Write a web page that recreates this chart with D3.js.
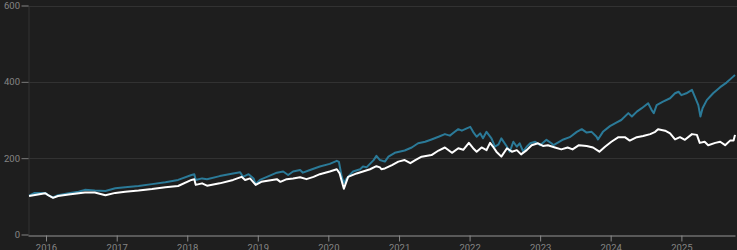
<!DOCTYPE html>
<html>
<head>
<meta charset="utf-8">
<script src="https://cdn.jsdelivr.net/npm/d3@7/dist/d3.min.js"></script>
<style>
  html, body { margin: 0; padding: 0; background: #1e1e1e; overflow: hidden; }
  svg { display: block; }
</style>
</head>
<body>
<svg id="chart" width="737" height="250"></svg>
<script>
// ---- Data (decimal years, values indexed to 100) ----
const blueYears = [2015.76,2015.84,2015.99,2016.03,2016.10,2016.17,2016.32,2016.46,2016.55,2016.69,2016.84,2016.98,2017.12,2017.31,2017.50,2017.69,2017.87,2018.06,2018.10,2018.12,2018.21,2018.28,2018.46,2018.65,2018.75,2018.79,2018.87,2018.94,2018.97,2019.03,2019.13,2019.27,2019.36,2019.43,2019.50,2019.60,2019.64,2019.74,2019.88,2020.02,2020.12,2020.15,2020.19,2020.22,2020.26,2020.35,2020.45,2020.49,2020.54,2020.64,2020.68,2020.73,2020.80,2020.85,2020.94,2021.08,2021.18,2021.27,2021.37,2021.46,2021.56,2021.65,2021.72,2021.79,2021.84,2021.89,2021.96,2022.01,2022.05,2022.10,2022.15,2022.19,2022.24,2022.31,2022.36,2022.41,2022.45,2022.53,2022.57,2022.62,2022.67,2022.71,2022.76,2022.81,2022.86,2022.93,2023.00,2023.09,2023.16,2023.19,2023.33,2023.42,2023.52,2023.59,2023.66,2023.73,2023.80,2023.82,2023.89,2023.99,2024.08,2024.15,2024.25,2024.30,2024.37,2024.44,2024.53,2024.58,2024.61,2024.65,2024.74,2024.84,2024.91,2024.96,2025.00,2025.07,2025.15,2025.19,2025.24,2025.27,2025.30,2025.36,2025.45,2025.55,2025.64,2025.73,2025.76];
const blueValues = [102,109,109,103,97,103,108,112,117,115,114,121,124,127,132,137,143,156,158,143,147,145,153,160,163,151,158,147,132,143,151,162,165,156,165,169,162,169,178,185,193,190,151,135,147,165,171,178,176,195,206,195,191,204,214,220,228,239,243,249,256,263,259,269,276,272,278,282,269,256,265,252,269,252,230,236,252,230,217,243,230,239,217,230,239,243,234,248,239,234,249,255,269,276,267,269,256,249,269,284,293,300,318,309,322,331,344,326,318,339,348,357,370,374,365,370,379,361,339,309,331,352,370,386,398,413,418];

const whiteYears = [2015.76,2015.99,2016.03,2016.10,2016.17,2016.32,2016.55,2016.69,2016.84,2016.98,2017.12,2017.31,2017.50,2017.69,2017.87,2018.06,2018.10,2018.12,2018.21,2018.28,2018.46,2018.65,2018.77,2018.82,2018.89,2018.97,2019.05,2019.27,2019.32,2019.41,2019.50,2019.60,2019.69,2019.79,2019.88,2020.02,2020.12,2020.16,2020.22,2020.28,2020.40,2020.49,2020.59,2020.68,2020.73,2020.75,2020.80,2020.90,2020.99,2021.08,2021.16,2021.23,2021.32,2021.46,2021.56,2021.65,2021.75,2021.84,2021.91,2021.99,2022.05,2022.10,2022.17,2022.24,2022.29,2022.34,2022.38,2022.45,2022.53,2022.60,2022.67,2022.73,2022.81,2022.88,2022.97,2023.04,2023.11,2023.21,2023.30,2023.39,2023.46,2023.55,2023.66,2023.75,2023.84,2023.92,2024.01,2024.11,2024.20,2024.27,2024.37,2024.46,2024.56,2024.63,2024.67,2024.77,2024.84,2024.91,2024.98,2025.05,2025.15,2025.22,2025.26,2025.33,2025.38,2025.48,2025.55,2025.62,2025.69,2025.74,2025.76];
const whiteValues = [101,108,103,96,101,105,110,110,103,109,112,115,119,124,127,143,145,130,134,128,134,143,151,143,147,130,138,145,138,145,147,150,145,151,158,165,171,160,120,151,160,165,171,179,176,171,173,182,191,195,187,195,204,208,220,228,214,226,222,240,226,217,228,221,240,228,217,204,226,217,221,210,221,234,239,232,234,228,223,228,223,234,232,228,217,230,243,255,255,246,255,258,263,269,276,272,265,249,255,248,263,261,240,243,234,240,243,234,246,246,261];

const yTicks = [0, 200, 400, 600];
const xTickYears = [2016,2017,2018,2019,2020,2021,2022,2023,2024,2025];
const xDomainYears = [2015.745, 2025.76];

// ---- Helpers ----
function yearToDate(y) {
  const yr = Math.floor(y);
  const start = Date.UTC(yr, 0, 1), end = Date.UTC(yr + 1, 0, 1);
  return new Date(start + (y - yr) * (end - start));
}

const svg = d3.select("#chart");
const W = 737, H = 250;
const margin = { left: 28, right: 2, top: 5.5, bottom: 15.5 };

const x = d3.scaleUtc()
  .domain(xDomainYears.map(yearToDate))
  .range([margin.left, W - margin.right]);
const y = d3.scaleLinear()
  .domain([0, 600])
  .range([H - margin.bottom, margin.top]);

// gridlines
svg.append("g").selectAll("line")
  .data(yTicks.filter(d => d > 0))
  .join("line")
  .attr("x1", margin.left).attr("x2", W)
  .attr("y1", d => Math.round(y(d)) + 0.5).attr("y2", d => Math.round(y(d)) + 0.5)
  .attr("stroke", "#323232").attr("stroke-width", 1);

// y axis
const yAxis = svg.append("g")
  .attr("transform", `translate(${margin.left + 0.5},0)`)
  .call(d3.axisLeft(y).tickValues(yTicks).tickSize(7).tickPadding(1.5));
yAxis.select(".domain").attr("stroke", "#333");
yAxis.selectAll(".tick line").attr("stroke", "#7a7a7a");
yAxis.selectAll(".tick text")
  .attr("fill", "#858585")
  .style("font-family", "Roboto, 'DejaVu Sans', sans-serif")
  .style("font-size", "9.5px");

// x axis
const xAxis = svg.append("g")
  .attr("transform", `translate(0,${Math.round(y(0)) + 0.5})`)
  .call(d3.axisBottom(x)
    .tickValues(xTickYears.map(yearToDate))
    .tickFormat(d3.utcFormat("%Y"))
    .tickSize(6).tickSizeOuter(0).tickPadding(3));
xAxis.select(".domain").attr("stroke", "#6e6e6e").attr("stroke-width", 1.5);
xAxis.selectAll(".tick line").attr("stroke", "#8a8a8a");
xAxis.selectAll(".tick text")
  .attr("fill", "#858585")
  .style("font-family", "Roboto, 'DejaVu Sans', sans-serif")
  .style("font-size", "9.5px");

// lines
const line = d3.line()
  .x(d => x(yearToDate(d[0])))
  .y(d => y(d[1]))
  .curve(d3.curveLinear);

const blueData = blueYears.map((t, i) => [t, blueValues[i]]);
const whiteData = whiteYears.map((t, i) => [t, whiteValues[i]]);

svg.append("path")
  .datum(blueData)
  .attr("fill", "none")
  .attr("stroke", "#2b7a98")
  .attr("stroke-width", 2)
  .attr("stroke-linejoin", "round")
  .attr("d", line);

svg.append("path")
  .datum(whiteData)
  .attr("fill", "none")
  .attr("stroke", "#ffffff")
  .attr("stroke-width", 2)
  .attr("stroke-linejoin", "round")
  .attr("d", line);
</script>
</body>
</html>
